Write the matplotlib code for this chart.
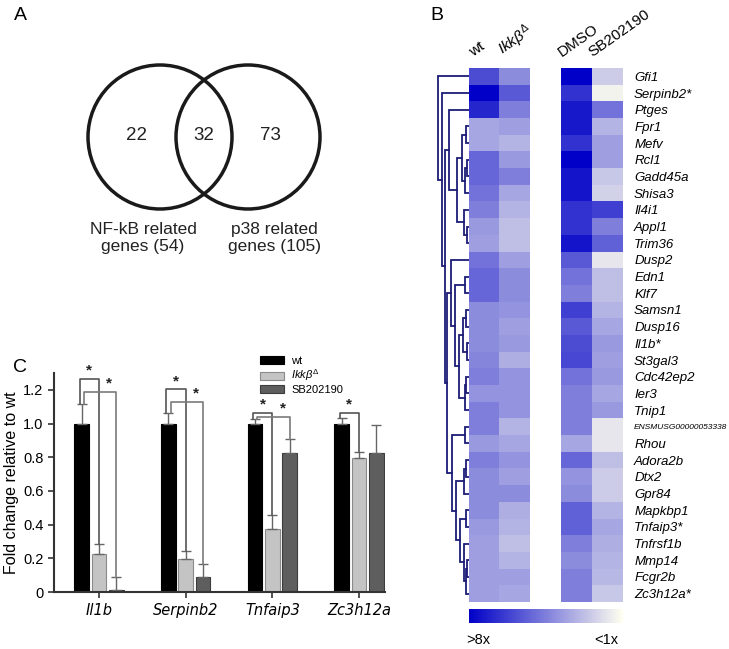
import numpy as np
import matplotlib
matplotlib.use('Agg')
import matplotlib.pyplot as plt
from matplotlib.patches import Circle, Patch
from matplotlib.colors import LinearSegmentedColormap, Normalize
from matplotlib.cm import ScalarMappable

plt.rcParams['font.family'] = ['Liberation Sans', 'DejaVu Sans']
plt.rcParams['mathtext.fontset'] = 'custom'
plt.rcParams['mathtext.it'] = 'Liberation Sans:italic'
plt.rcParams['mathtext.rm'] = 'Liberation Sans'

# ---- panel A data
venn_counts = [22, 32, 73]
venn_labels = ['NF-kB related\ngenes (54)', 'p38 related\ngenes (105)']

# ---- panel B data (intensity 0 = <1x, 1 = >8x)
genes = ['Gfi1', 'Serpinb2*', 'Ptges', 'Fpr1', 'Mefv', 'Rcl1', 'Gadd45a', 'Shisa3',
         'Il4i1', 'Appl1', 'Trim36', 'Dusp2', 'Edn1', 'Klf7', 'Samsn1', 'Dusp16',
         'Il1b*', 'St3gal3', 'Cdc42ep2', 'Ier3', 'Tnip1', 'ENSMUSG00000053338',
         'Rhou', 'Adora2b', 'Dtx2', 'Gpr84', 'Mapkbp1', 'Tnfaip3*', 'Tnfrsf1b',
         'Mmp14', 'Fcgr2b', 'Zc3h12a*']
wt_int = [0.70, 1.00, 0.85, 0.35, 0.35, 0.60, 0.60, 0.55, 0.50, 0.40, 0.38, 0.55,
          0.60, 0.60, 0.45, 0.45, 0.45, 0.48, 0.50, 0.42, 0.50, 0.50, 0.40, 0.50,
          0.45, 0.45, 0.45, 0.40, 0.38, 0.38, 0.38, 0.38]
ikk_int = [0.45, 0.65, 0.50, 0.38, 0.30, 0.40, 0.50, 0.35, 0.30, 0.25, 0.25, 0.38,
           0.45, 0.45, 0.42, 0.38, 0.40, 0.32, 0.42, 0.42, 0.42, 0.30, 0.35, 0.42,
           0.38, 0.45, 0.32, 0.30, 0.25, 0.30, 0.38, 0.35]
dmso_int = [1.00, 0.80, 0.90, 0.90, 0.80, 1.00, 0.92, 0.92, 0.80, 0.80, 0.92, 0.65,
            0.55, 0.50, 0.75, 0.65, 0.70, 0.72, 0.55, 0.50, 0.50, 0.50, 0.35, 0.60,
            0.42, 0.45, 0.62, 0.62, 0.50, 0.45, 0.50, 0.50]
sb_int = [0.20, 0.05, 0.55, 0.30, 0.38, 0.38, 0.22, 0.18, 0.75, 0.50, 0.62, 0.10,
          0.25, 0.25, 0.30, 0.35, 0.40, 0.38, 0.40, 0.35, 0.40, 0.10, 0.10, 0.25,
          0.20, 0.20, 0.30, 0.35, 0.32, 0.30, 0.28, 0.22]
hm_cols1 = ['wt', r'$\mathit{Ikk}\beta^{\Delta}$']
hm_cols2 = ['DMSO', 'SB202190']

# dendrogram merges: (child a, child b, height); new clusters get ids 32, 33, ...
merges = [(3, 4, 3), (5, 6, 2), (33, 7, 4), (32, 34, 7), (9, 10, 2), (8, 36, 5),
          (35, 37, 12), (2, 38, 20),
          (12, 13, 4), (14, 15, 3), (16, 17, 2), (41, 42, 6), (18, 19, 3), (44, 20, 4),
          (43, 45, 10), (40, 46, 14), (11, 47, 18),
          (21, 22, 4), (23, 24, 3), (50, 25, 5), (26, 27, 3), (29, 30, 2), (53, 31, 3),
          (28, 54, 5), (52, 55, 9), (51, 56, 13), (49, 57, 17),
          (48, 58, 22), (39, 59, 24), (1, 60, 27), (0, 61, 31)]

# ---- panel C data
qpcr_genes = ['Il1b', 'Serpinb2', 'Tnfaip3', 'Zc3h12a']
wt_vals = [1.0, 1.0, 1.0, 1.0]
wt_err = [0.115, 0.062, 0.026, 0.032]
ikk_vals = [0.224, 0.194, 0.372, 0.798]
ikk_err = [0.06, 0.048, 0.088, 0.032]
sb_vals = [0.012, 0.087, 0.824, 0.828]
sb_err = [0.078, 0.078, 0.083, 0.162]
# (gene index, compared series: 1 = Ikkb, 2 = SB202190, bracket top)
sig_brackets = [(0, 1, 1.266), (0, 2, 1.19), (1, 1, 1.204), (1, 2, 1.13),
                (2, 1, 1.064), (2, 2, 1.04), (3, 1, 1.064)]

W, H = 729, 649
fig = plt.figure(figsize=(W / 100, H / 100), dpi=100)


def px_axes(x0, y0, x1, y1):
    return fig.add_axes([x0 / W, 1 - y1 / H, (x1 - x0) / W, (y1 - y0) / H])


# panel letters
fig.text(20 / W, 1 - 16 / H, 'A', fontsize=14, ha='center', va='center')
fig.text(437 / W, 1 - 16 / H, 'B', fontsize=14, ha='center', va='center')
fig.text(20 / W, 1 - 368 / H, 'C', fontsize=14, ha='center', va='center')

# ---------------- A: Venn
ax = px_axes(0, 0, 420, 300)
ax.set_xlim(0, 420)
ax.set_ylim(300, 0)
ax.axis('off')
ax.add_patch(Circle((160, 137), 72, fill=False, lw=2.5, ec='#1a1a1a'))
ax.add_patch(Circle((248, 137), 72, fill=False, lw=2.5, ec='#1a1a1a'))
for xc, n in zip([136, 204, 270], venn_counts):
    ax.text(xc, 136, str(n), fontsize=13.5, ha='center', va='center', color='#222222')
for xc, lab in zip([143, 274], venn_labels):
    ax.text(xc, 238, lab, fontsize=12.5, ha='center', va='center', linespacing=1.15,
            color='#222222')

# ---------------- B: heatmap
cmap = LinearSegmentedColormap.from_list('wb', ['#fffff0', '#0000c8'])
mat = np.array([wt_int, ikk_int, dmso_int, sb_int]).T

axd = px_axes(433, 68, 469, 602)
pos = {i: float(i) for i in range(len(genes))}
hgt = {i: 0.0 for i in range(len(genes))}
for k, (a, b, h) in enumerate(merges):
    axd.plot([hgt[a], h, h, hgt[b]], [pos[a], pos[a], pos[b], pos[b]],
             color='#1c1c78', lw=1.3, solid_joinstyle='miter')
    pos[len(genes) + k] = (pos[a] + pos[b]) / 2
    hgt[len(genes) + k] = h
axd.set_xlim(36, 0)
axd.set_ylim(len(genes) - 0.5, -0.5)
axd.axis('off')

ax1 = px_axes(469, 68, 530, 602)
ax1.imshow(mat[:, :2], cmap=cmap, vmin=0, vmax=1, aspect='auto', interpolation='nearest')
ax1.axis('off')
for j, lab in enumerate(hm_cols1):
    ax1.text(j - 0.3, -1.0, lab, rotation=35, rotation_mode='anchor', ha='left',
             va='bottom', fontsize=11, clip_on=False)

ax2 = px_axes(561, 68, 623, 602)
ax2.imshow(mat[:, 2:], cmap=cmap, vmin=0, vmax=1, aspect='auto', interpolation='nearest')
for j, lab in enumerate(hm_cols2):
    ax2.text(j - 0.42, -1.0, lab, rotation=35, rotation_mode='anchor', ha='left',
             va='bottom', fontsize=11, clip_on=False)
ax2.set_xticks([])
ax2.yaxis.tick_right()
ax2.set_yticks(range(len(genes)))
ax2.set_yticklabels(genes, fontstyle='italic', fontsize=9.5)
ax2.tick_params(axis='y', length=0, pad=8)
for lbl in ax2.get_yticklabels():
    if lbl.get_text().startswith('ENSMUSG'):
        lbl.set_fontsize(6.0)
for s in ax2.spines.values():
    s.set_visible(False)

cax = px_axes(469, 609, 623, 623)
cb = fig.colorbar(ScalarMappable(Normalize(0, 1), cmap), cax=cax, orientation='horizontal')
cax.invert_xaxis()
cb.set_ticks([])
cb.outline.set_visible(False)
fig.text(478 / W, 1 - 640 / H, '>8x', fontsize=10.5, ha='center', va='center')
fig.text(606 / W, 1 - 640 / H, '<1x', fontsize=10.5, ha='center', va='center')

# ---------------- C: bars
axc = px_axes(54, 373, 385, 592)
x = np.arange(len(qpcr_genes))
offs = [-0.2, 0.0, 0.2]
bw = 0.17
series = [(wt_vals, wt_err, 'black', 'black', 'wt'),
          (ikk_vals, ikk_err, '#c4c4c4', '#8a8a8a', r'$\mathit{Ikk}\beta^{\Delta}$'),
          (sb_vals, sb_err, '#5e5e5e', '#3c3c3c', 'SB202190')]
handles = []
for off, (v, e, fc, ec, lab) in zip(offs, series):
    axc.bar(x + off, v, bw, color=fc, edgecolor=ec, lw=0.8,
            yerr=[np.zeros(len(e)), e],
            error_kw=dict(ecolor='#666666', elinewidth=1, capsize=3.5, capthick=1))
    handles.append(Patch(facecolor=fc, edgecolor=ec, lw=0.8))

tops = [np.array(wt_vals) + wt_err, np.array(ikk_vals) + ikk_err,
        np.array(sb_vals) + sb_err]
for g, t, top in sig_brackets:
    xl = g + offs[0] + (-0.025 if t == 1 else 0.025)
    xr = g + offs[t]
    col = '#555555' if t == 1 else '#7a7a7a'
    axc.plot([xl, xl, xr, xr], [tops[0][g], top, top, tops[t][g]], color=col, lw=1.2)
    xs = (xl + xr) / 2 if t == 1 else (g + offs[1] + xr) / 2 + 0.02
    axc.text(xs, top + 0.005, '*', ha='center', va='bottom', fontsize=11,
             fontweight='bold', color='#222222')

axc.set_xlim(-0.52, 3.3)
axc.set_ylim(0, 1.3)
axc.set_yticks([0, 0.2, 0.4, 0.6, 0.8, 1.0, 1.2])
axc.set_yticklabels(['0', '0.2', '0.4', '0.6', '0.8', '1.0', '1.2'])
axc.set_xticks(x)
axc.set_xticklabels(qpcr_genes, fontstyle='italic', family='DejaVu Sans', fontsize=10.5)
axc.tick_params(axis='y', labelsize=10.5, width=1.2, length=4, color='#333333')
axc.tick_params(axis='x', width=1.2, length=4, color='#333333', pad=4)
for s in ['top', 'right']:
    axc.spines[s].set_visible(False)
for s in ['left', 'bottom']:
    axc.spines[s].set_linewidth(1.5)
    axc.spines[s].set_color('#333333')
axc.set_ylabel('Fold change relative to wt', fontsize=11.5)
axc.yaxis.set_label_coords(-0.105, 0.5)

fig.legend(handles, ['wt', r'$\mathit{Ikk}\beta^{\Delta}$', 'SB202190'], loc='upper left',
           bbox_to_anchor=(260 / W, 1 - 356 / H), frameon=False, fontsize=8,
           handlelength=2.2, handleheight=0.75, labelspacing=0.15, borderaxespad=0,
           borderpad=0, handletextpad=0.6)

fig.savefig('out.png', dpi=100)
